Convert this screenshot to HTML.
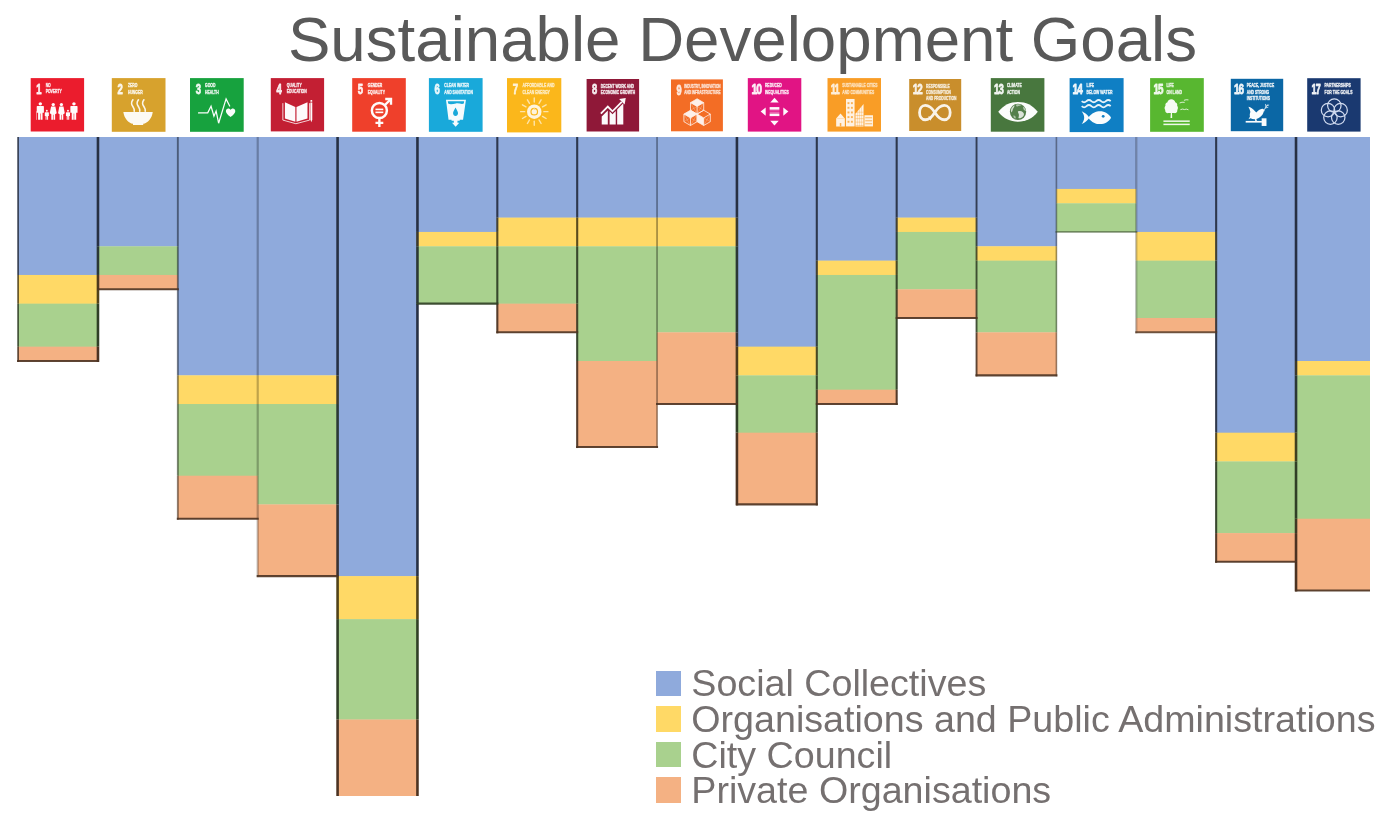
<!DOCTYPE html>
<html><head><meta charset="utf-8"><title>Sustainable Development Goals</title>
<style>
html,body{margin:0;padding:0;background:#fff;}
body{width:1386px;height:830px;position:relative;overflow:hidden;font-family:"Liberation Sans",sans-serif;}
#title{position:absolute;left:0;top:0;width:1386px;white-space:nowrap;color:#595959;font-size:63.65px;line-height:64px;}
#title span{position:absolute;left:287.9px;top:6.8px;letter-spacing:0px;}
#chart{position:absolute;left:0;top:0;width:1370.2px;height:796.4px;overflow:hidden;}
.ic{position:absolute;display:block;}
#legend{will-change:transform;position:absolute;left:656.2px;top:671.3px;color:#757070;font-size:37.65px;white-space:nowrap;}
.li{position:absolute;left:0;height:25.4px;}
.li i{position:absolute;left:0;top:0;width:25.4px;height:25.4px;display:block;}
.li b{position:absolute;left:35.3px;top:-8px;font-weight:normal;line-height:36px;}
#icons text{font-family:"Liberation Sans",sans-serif;font-weight:bold;white-space:pre;}
#icons text.n{font-size:28.2px;}
#icons text.n2{font-size:28.2px;letter-spacing:-2.46px;}
#icons text.l{font-size:10.79px;}
</style></head><body>
<div id="chart"><svg width="1386" height="830" viewBox="0 0 1386 830" style="position:absolute;left:0;top:0;filter:blur(0.35px)">
<g shape-rendering="auto">
<rect x="18.10" y="137.00" width="80.17" height="138.26" fill="#8FAADC"/>
<rect x="18.10" y="274.96" width="80.17" height="28.98" fill="#FFD966"/>
<rect x="18.10" y="303.64" width="80.17" height="43.32" fill="#A9D18E"/>
<rect x="18.10" y="346.66" width="80.17" height="14.64" fill="#F4B183"/>
<rect x="97.97" y="137.00" width="80.17" height="109.58" fill="#8FAADC"/>
<rect x="97.97" y="246.28" width="80.17" height="28.98" fill="#A9D18E"/>
<rect x="97.97" y="274.96" width="80.17" height="14.64" fill="#F4B183"/>
<rect x="177.84" y="137.00" width="80.17" height="238.64" fill="#8FAADC"/>
<rect x="177.84" y="375.34" width="80.17" height="28.98" fill="#FFD966"/>
<rect x="177.84" y="404.02" width="80.17" height="72.00" fill="#A9D18E"/>
<rect x="177.84" y="475.72" width="80.17" height="43.32" fill="#F4B183"/>
<rect x="257.71" y="137.00" width="80.17" height="238.64" fill="#8FAADC"/>
<rect x="257.71" y="375.34" width="80.17" height="28.98" fill="#FFD966"/>
<rect x="257.71" y="404.02" width="80.17" height="100.68" fill="#A9D18E"/>
<rect x="257.71" y="504.40" width="80.17" height="72.00" fill="#F4B183"/>
<rect x="337.58" y="137.00" width="80.17" height="439.40" fill="#8FAADC"/>
<rect x="337.58" y="576.10" width="80.17" height="43.32" fill="#FFD966"/>
<rect x="337.58" y="619.12" width="80.17" height="100.68" fill="#A9D18E"/>
<rect x="337.58" y="719.50" width="80.17" height="93.51" fill="#F4B183"/>
<rect x="417.45" y="137.00" width="80.17" height="95.24" fill="#8FAADC"/>
<rect x="417.45" y="231.94" width="80.17" height="14.64" fill="#FFD966"/>
<rect x="417.45" y="246.28" width="80.17" height="57.66" fill="#A9D18E"/>
<rect x="497.32" y="137.00" width="80.17" height="80.90" fill="#8FAADC"/>
<rect x="497.32" y="217.60" width="80.17" height="28.98" fill="#FFD966"/>
<rect x="497.32" y="246.28" width="80.17" height="57.66" fill="#A9D18E"/>
<rect x="497.32" y="303.64" width="80.17" height="28.98" fill="#F4B183"/>
<rect x="577.19" y="137.00" width="80.17" height="80.90" fill="#8FAADC"/>
<rect x="577.19" y="217.60" width="80.17" height="28.98" fill="#FFD966"/>
<rect x="577.19" y="246.28" width="80.17" height="115.02" fill="#A9D18E"/>
<rect x="577.19" y="361.00" width="80.17" height="86.34" fill="#F4B183"/>
<rect x="657.06" y="137.00" width="80.17" height="80.90" fill="#8FAADC"/>
<rect x="657.06" y="217.60" width="80.17" height="28.98" fill="#FFD966"/>
<rect x="657.06" y="246.28" width="80.17" height="86.34" fill="#A9D18E"/>
<rect x="657.06" y="332.32" width="80.17" height="72.00" fill="#F4B183"/>
<rect x="736.93" y="137.00" width="80.17" height="209.96" fill="#8FAADC"/>
<rect x="736.93" y="346.66" width="80.17" height="28.98" fill="#FFD966"/>
<rect x="736.93" y="375.34" width="80.17" height="57.66" fill="#A9D18E"/>
<rect x="736.93" y="432.70" width="80.17" height="72.00" fill="#F4B183"/>
<rect x="816.80" y="137.00" width="80.17" height="123.92" fill="#8FAADC"/>
<rect x="816.80" y="260.62" width="80.17" height="14.64" fill="#FFD966"/>
<rect x="816.80" y="274.96" width="80.17" height="115.02" fill="#A9D18E"/>
<rect x="816.80" y="389.68" width="80.17" height="14.64" fill="#F4B183"/>
<rect x="896.67" y="137.00" width="80.17" height="80.90" fill="#8FAADC"/>
<rect x="896.67" y="217.60" width="80.17" height="14.64" fill="#FFD966"/>
<rect x="896.67" y="231.94" width="80.17" height="57.66" fill="#A9D18E"/>
<rect x="896.67" y="289.30" width="80.17" height="28.98" fill="#F4B183"/>
<rect x="976.54" y="137.00" width="80.17" height="109.58" fill="#8FAADC"/>
<rect x="976.54" y="246.28" width="80.17" height="14.64" fill="#FFD966"/>
<rect x="976.54" y="260.62" width="80.17" height="72.00" fill="#A9D18E"/>
<rect x="976.54" y="332.32" width="80.17" height="43.32" fill="#F4B183"/>
<rect x="1056.41" y="137.00" width="80.17" height="52.22" fill="#8FAADC"/>
<rect x="1056.41" y="188.92" width="80.17" height="14.64" fill="#FFD966"/>
<rect x="1056.41" y="203.26" width="80.17" height="28.98" fill="#A9D18E"/>
<rect x="1136.28" y="137.00" width="80.17" height="95.24" fill="#8FAADC"/>
<rect x="1136.28" y="231.94" width="80.17" height="28.98" fill="#FFD966"/>
<rect x="1136.28" y="260.62" width="80.17" height="57.66" fill="#A9D18E"/>
<rect x="1136.28" y="317.98" width="80.17" height="14.64" fill="#F4B183"/>
<rect x="1216.15" y="137.00" width="80.17" height="296.00" fill="#8FAADC"/>
<rect x="1216.15" y="432.70" width="80.17" height="28.98" fill="#FFD966"/>
<rect x="1216.15" y="461.38" width="80.17" height="72.00" fill="#A9D18E"/>
<rect x="1216.15" y="533.08" width="80.17" height="28.98" fill="#F4B183"/>
<rect x="1296.02" y="137.00" width="80.17" height="224.30" fill="#8FAADC"/>
<rect x="1296.02" y="361.00" width="80.17" height="14.64" fill="#FFD966"/>
<rect x="1296.02" y="375.34" width="80.17" height="143.70" fill="#A9D18E"/>
<rect x="1296.02" y="518.74" width="80.17" height="72.00" fill="#F4B183"/>
</g>
<g fill="none" stroke="#0a0604" stroke-linecap="butt">
<path d="M18.10 137.00V274.96" stroke="#273043" stroke-width="1.6" stroke-opacity="0.94"/>
<path d="M18.10 274.96V303.64" stroke="#504219" stroke-width="1.6" stroke-opacity="0.94"/>
<path d="M18.10 303.64V346.66" stroke="#303f26" stroke-width="1.6" stroke-opacity="0.94"/>
<path d="M18.10 346.66V362.00" stroke="#4c3322" stroke-width="1.6" stroke-opacity="0.94"/>
<path d="M97.97 137.00V246.28" stroke="#273043" stroke-width="2.6" stroke-opacity="1.00"/>
<path d="M97.97 246.28V274.96" stroke="#2b3835" stroke-width="2.6" stroke-opacity="1.00"/>
<path d="M97.97 274.96V289.30" stroke="#4e3a1d" stroke-width="2.6" stroke-opacity="1.00"/>
<path d="M97.97 289.30V303.64" stroke="#504219" stroke-width="2.6" stroke-opacity="1.00"/>
<path d="M97.97 303.64V346.66" stroke="#303f26" stroke-width="2.6" stroke-opacity="1.00"/>
<path d="M97.97 346.66V362.00" stroke="#4c3322" stroke-width="2.6" stroke-opacity="1.00"/>
<path d="M177.84 137.00V246.28" stroke="#273043" stroke-width="1.9" stroke-opacity="0.64"/>
<path d="M177.84 246.28V274.96" stroke="#2b3835" stroke-width="1.9" stroke-opacity="0.64"/>
<path d="M177.84 274.96V289.30" stroke="#393233" stroke-width="1.9" stroke-opacity="0.64"/>
<path d="M177.84 289.30V375.34" stroke="#273043" stroke-width="1.9" stroke-opacity="0.64"/>
<path d="M177.84 375.34V404.02" stroke="#504219" stroke-width="1.9" stroke-opacity="0.64"/>
<path d="M177.84 404.02V475.72" stroke="#303f26" stroke-width="1.9" stroke-opacity="0.64"/>
<path d="M177.84 475.72V519.74" stroke="#4c3322" stroke-width="1.9" stroke-opacity="0.64"/>
<path d="M257.71 137.00V375.34" stroke="#273043" stroke-width="2.2" stroke-opacity="0.36"/>
<path d="M257.71 375.34V404.02" stroke="#504219" stroke-width="2.2" stroke-opacity="0.36"/>
<path d="M257.71 404.02V475.72" stroke="#303f26" stroke-width="2.2" stroke-opacity="0.36"/>
<path d="M257.71 475.72V504.40" stroke="#3e3924" stroke-width="2.2" stroke-opacity="0.36"/>
<path d="M257.71 504.40V518.74" stroke="#4c3322" stroke-width="2.2" stroke-opacity="0.36"/>
<path d="M257.71 518.74V577.10" stroke="#4c3322" stroke-width="2.2" stroke-opacity="0.36"/>
<path d="M337.58 137.00V375.34" stroke="#273043" stroke-width="2.6" stroke-opacity="1.00"/>
<path d="M337.58 375.34V404.02" stroke="#3b392d" stroke-width="2.6" stroke-opacity="1.00"/>
<path d="M337.58 404.02V504.40" stroke="#2b3835" stroke-width="2.6" stroke-opacity="1.00"/>
<path d="M337.58 504.40V576.10" stroke="#393233" stroke-width="2.6" stroke-opacity="1.00"/>
<path d="M337.58 576.10V619.12" stroke="#504219" stroke-width="2.6" stroke-opacity="1.00"/>
<path d="M337.58 619.12V719.50" stroke="#303f26" stroke-width="2.6" stroke-opacity="1.00"/>
<path d="M337.58 719.50V813.71" stroke="#4c3322" stroke-width="2.6" stroke-opacity="1.00"/>
<path d="M417.45 137.00V231.94" stroke="#273043" stroke-width="2.6" stroke-opacity="1.00"/>
<path d="M417.45 231.94V246.28" stroke="#3b392d" stroke-width="2.6" stroke-opacity="1.00"/>
<path d="M417.45 246.28V303.64" stroke="#2b3835" stroke-width="2.6" stroke-opacity="1.00"/>
<path d="M417.45 303.64V576.10" stroke="#273043" stroke-width="2.6" stroke-opacity="1.00"/>
<path d="M417.45 576.10V619.12" stroke="#504219" stroke-width="2.6" stroke-opacity="1.00"/>
<path d="M417.45 619.12V719.50" stroke="#303f26" stroke-width="2.6" stroke-opacity="1.00"/>
<path d="M417.45 719.50V813.71" stroke="#4c3322" stroke-width="2.6" stroke-opacity="1.00"/>
<path d="M497.32 137.00V217.60" stroke="#273043" stroke-width="2.1" stroke-opacity="0.94"/>
<path d="M497.32 217.60V231.94" stroke="#3b392d" stroke-width="2.1" stroke-opacity="0.94"/>
<path d="M497.32 231.94V246.28" stroke="#504219" stroke-width="2.1" stroke-opacity="0.94"/>
<path d="M497.32 246.28V303.64" stroke="#303f26" stroke-width="2.1" stroke-opacity="0.94"/>
<path d="M497.32 303.64V333.32" stroke="#4c3322" stroke-width="2.1" stroke-opacity="0.94"/>
<path d="M577.19 137.00V217.60" stroke="#273043" stroke-width="2.1" stroke-opacity="0.94"/>
<path d="M577.19 217.60V246.28" stroke="#504219" stroke-width="2.1" stroke-opacity="0.94"/>
<path d="M577.19 246.28V303.64" stroke="#303f26" stroke-width="2.1" stroke-opacity="0.94"/>
<path d="M577.19 303.64V332.32" stroke="#3e3924" stroke-width="2.1" stroke-opacity="0.94"/>
<path d="M577.19 332.32V361.00" stroke="#303f26" stroke-width="2.1" stroke-opacity="0.94"/>
<path d="M577.19 361.00V448.04" stroke="#4c3322" stroke-width="2.1" stroke-opacity="0.94"/>
<path d="M657.06 137.00V217.60" stroke="#273043" stroke-width="1.6" stroke-opacity="0.56"/>
<path d="M657.06 217.60V246.28" stroke="#504219" stroke-width="1.6" stroke-opacity="0.56"/>
<path d="M657.06 246.28V332.32" stroke="#303f26" stroke-width="1.6" stroke-opacity="0.56"/>
<path d="M657.06 332.32V361.00" stroke="#3e3924" stroke-width="1.6" stroke-opacity="0.56"/>
<path d="M657.06 361.00V404.02" stroke="#4c3322" stroke-width="1.6" stroke-opacity="0.56"/>
<path d="M657.06 404.02V448.04" stroke="#4c3322" stroke-width="1.6" stroke-opacity="0.56"/>
<path d="M736.93 137.00V217.60" stroke="#273043" stroke-width="2.6" stroke-opacity="1.00"/>
<path d="M736.93 217.60V246.28" stroke="#3b392d" stroke-width="2.6" stroke-opacity="1.00"/>
<path d="M736.93 246.28V332.32" stroke="#2b3835" stroke-width="2.6" stroke-opacity="1.00"/>
<path d="M736.93 332.32V346.66" stroke="#393233" stroke-width="2.6" stroke-opacity="1.00"/>
<path d="M736.93 346.66V375.34" stroke="#4e3a1d" stroke-width="2.6" stroke-opacity="1.00"/>
<path d="M736.93 375.34V404.02" stroke="#3e3924" stroke-width="2.6" stroke-opacity="1.00"/>
<path d="M736.93 404.02V432.70" stroke="#303f26" stroke-width="2.6" stroke-opacity="1.00"/>
<path d="M736.93 432.70V505.40" stroke="#4c3322" stroke-width="2.6" stroke-opacity="1.00"/>
<path d="M816.80 137.00V260.62" stroke="#273043" stroke-width="2.1" stroke-opacity="0.94"/>
<path d="M816.80 260.62V274.96" stroke="#3b392d" stroke-width="2.1" stroke-opacity="0.94"/>
<path d="M816.80 274.96V346.66" stroke="#2b3835" stroke-width="2.1" stroke-opacity="0.94"/>
<path d="M816.80 346.66V375.34" stroke="#40401f" stroke-width="2.1" stroke-opacity="0.94"/>
<path d="M816.80 375.34V389.68" stroke="#303f26" stroke-width="2.1" stroke-opacity="0.94"/>
<path d="M816.80 389.68V404.02" stroke="#3e3924" stroke-width="2.1" stroke-opacity="0.94"/>
<path d="M816.80 404.02V432.70" stroke="#303f26" stroke-width="2.1" stroke-opacity="0.94"/>
<path d="M816.80 432.70V505.40" stroke="#4c3322" stroke-width="2.1" stroke-opacity="0.94"/>
<path d="M896.67 137.00V217.60" stroke="#273043" stroke-width="2.1" stroke-opacity="0.94"/>
<path d="M896.67 217.60V231.94" stroke="#3b392d" stroke-width="2.1" stroke-opacity="0.94"/>
<path d="M896.67 231.94V260.62" stroke="#2b3835" stroke-width="2.1" stroke-opacity="0.94"/>
<path d="M896.67 260.62V274.96" stroke="#40401f" stroke-width="2.1" stroke-opacity="0.94"/>
<path d="M896.67 274.96V289.30" stroke="#303f26" stroke-width="2.1" stroke-opacity="0.94"/>
<path d="M896.67 289.30V317.98" stroke="#3e3924" stroke-width="2.1" stroke-opacity="0.94"/>
<path d="M896.67 317.98V389.68" stroke="#303f26" stroke-width="2.1" stroke-opacity="0.94"/>
<path d="M896.67 389.68V405.02" stroke="#4c3322" stroke-width="2.1" stroke-opacity="0.94"/>
<path d="M976.54 137.00V217.60" stroke="#273043" stroke-width="1.9" stroke-opacity="0.89"/>
<path d="M976.54 217.60V231.94" stroke="#3b392d" stroke-width="1.9" stroke-opacity="0.89"/>
<path d="M976.54 231.94V246.28" stroke="#2b3835" stroke-width="1.9" stroke-opacity="0.89"/>
<path d="M976.54 246.28V260.62" stroke="#40401f" stroke-width="1.9" stroke-opacity="0.89"/>
<path d="M976.54 260.62V289.30" stroke="#303f26" stroke-width="1.9" stroke-opacity="0.89"/>
<path d="M976.54 289.30V317.98" stroke="#3e3924" stroke-width="1.9" stroke-opacity="0.89"/>
<path d="M976.54 317.98V332.32" stroke="#303f26" stroke-width="1.9" stroke-opacity="0.89"/>
<path d="M976.54 332.32V376.34" stroke="#4c3322" stroke-width="1.9" stroke-opacity="0.89"/>
<path d="M1056.41 137.00V188.92" stroke="#273043" stroke-width="1.6" stroke-opacity="0.56"/>
<path d="M1056.41 188.92V203.26" stroke="#3b392d" stroke-width="1.6" stroke-opacity="0.56"/>
<path d="M1056.41 203.26V231.94" stroke="#2b3835" stroke-width="1.6" stroke-opacity="0.56"/>
<path d="M1056.41 231.94V246.28" stroke="#273043" stroke-width="1.6" stroke-opacity="0.56"/>
<path d="M1056.41 246.28V260.62" stroke="#504219" stroke-width="1.6" stroke-opacity="0.56"/>
<path d="M1056.41 260.62V332.32" stroke="#303f26" stroke-width="1.6" stroke-opacity="0.56"/>
<path d="M1056.41 332.32V376.34" stroke="#4c3322" stroke-width="1.6" stroke-opacity="0.56"/>
<path d="M1136.28 137.00V188.92" stroke="#273043" stroke-width="2.2" stroke-opacity="0.36"/>
<path d="M1136.28 188.92V203.26" stroke="#3b392d" stroke-width="2.2" stroke-opacity="0.36"/>
<path d="M1136.28 203.26V231.94" stroke="#2b3835" stroke-width="2.2" stroke-opacity="0.36"/>
<path d="M1136.28 231.94V260.62" stroke="#504219" stroke-width="2.2" stroke-opacity="0.36"/>
<path d="M1136.28 260.62V317.98" stroke="#303f26" stroke-width="2.2" stroke-opacity="0.36"/>
<path d="M1136.28 317.98V333.32" stroke="#4c3322" stroke-width="2.2" stroke-opacity="0.36"/>
<path d="M1216.15 137.00V231.94" stroke="#273043" stroke-width="2.1" stroke-opacity="0.94"/>
<path d="M1216.15 231.94V260.62" stroke="#3b392d" stroke-width="2.1" stroke-opacity="0.94"/>
<path d="M1216.15 260.62V317.98" stroke="#2b3835" stroke-width="2.1" stroke-opacity="0.94"/>
<path d="M1216.15 317.98V332.32" stroke="#393233" stroke-width="2.1" stroke-opacity="0.94"/>
<path d="M1216.15 332.32V432.70" stroke="#273043" stroke-width="2.1" stroke-opacity="0.94"/>
<path d="M1216.15 432.70V461.38" stroke="#504219" stroke-width="2.1" stroke-opacity="0.94"/>
<path d="M1216.15 461.38V533.08" stroke="#303f26" stroke-width="2.1" stroke-opacity="0.94"/>
<path d="M1216.15 533.08V562.76" stroke="#4c3322" stroke-width="2.1" stroke-opacity="0.94"/>
<path d="M1296.02 137.00V361.00" stroke="#273043" stroke-width="2.6" stroke-opacity="1.00"/>
<path d="M1296.02 361.00V375.34" stroke="#3b392d" stroke-width="2.6" stroke-opacity="1.00"/>
<path d="M1296.02 375.34V432.70" stroke="#2b3835" stroke-width="2.6" stroke-opacity="1.00"/>
<path d="M1296.02 432.70V461.38" stroke="#40401f" stroke-width="2.6" stroke-opacity="1.00"/>
<path d="M1296.02 461.38V518.74" stroke="#303f26" stroke-width="2.6" stroke-opacity="1.00"/>
<path d="M1296.02 518.74V533.08" stroke="#3e3924" stroke-width="2.6" stroke-opacity="1.00"/>
<path d="M1296.02 533.08V561.76" stroke="#4c3322" stroke-width="2.6" stroke-opacity="1.00"/>
<path d="M1296.02 561.76V591.44" stroke="#4c3322" stroke-width="2.6" stroke-opacity="1.00"/>
<path d="M1375.89 137.00V361.00" stroke="#273043" stroke-width="2.1" stroke-opacity="0.94"/>
<path d="M1375.89 361.00V375.34" stroke="#504219" stroke-width="2.1" stroke-opacity="0.94"/>
<path d="M1375.89 375.34V518.74" stroke="#303f26" stroke-width="2.1" stroke-opacity="0.94"/>
<path d="M1375.89 518.74V591.44" stroke="#4c3322" stroke-width="2.1" stroke-opacity="0.94"/>
<path d="M17.10 361.00H98.97" stroke="#4c3322" stroke-width="2.1" stroke-opacity="0.9"/>
<path d="M96.97 289.30H178.84" stroke="#4c3322" stroke-width="2.1" stroke-opacity="0.9"/>
<path d="M176.84 518.74H258.71" stroke="#4c3322" stroke-width="2.1" stroke-opacity="0.9"/>
<path d="M256.71 576.10H338.58" stroke="#4c3322" stroke-width="2.1" stroke-opacity="0.9"/>
<path d="M336.58 812.71H418.45" stroke="#4c3322" stroke-width="2.1" stroke-opacity="0.9"/>
<path d="M416.45 303.64H498.32" stroke="#303f26" stroke-width="2.1" stroke-opacity="0.9"/>
<path d="M496.32 332.32H578.19" stroke="#4c3322" stroke-width="2.1" stroke-opacity="0.9"/>
<path d="M576.19 447.04H658.06" stroke="#4c3322" stroke-width="2.1" stroke-opacity="0.9"/>
<path d="M656.06 404.02H737.93" stroke="#4c3322" stroke-width="2.1" stroke-opacity="0.9"/>
<path d="M735.93 504.40H817.80" stroke="#4c3322" stroke-width="2.1" stroke-opacity="0.9"/>
<path d="M815.80 404.02H897.67" stroke="#4c3322" stroke-width="2.1" stroke-opacity="0.9"/>
<path d="M895.67 317.98H977.54" stroke="#4c3322" stroke-width="2.1" stroke-opacity="0.9"/>
<path d="M975.54 375.34H1057.41" stroke="#4c3322" stroke-width="2.1" stroke-opacity="0.9"/>
<path d="M1055.41 231.94H1137.28" stroke="#303f26" stroke-width="1.8" stroke-opacity="0.5"/>
<path d="M1135.28 332.32H1217.15" stroke="#4c3322" stroke-width="2.0" stroke-opacity="0.8"/>
<path d="M1215.15 561.76H1297.02" stroke="#4c3322" stroke-width="2.1" stroke-opacity="0.9"/>
<path d="M1295.02 590.44H1376.89" stroke="#4c3322" stroke-width="2.1" stroke-opacity="0.9"/>
</g>
</svg></div>
<div id="title"><span>Sustainable Development Goals</span></div>
<svg id="icons" width="1386" height="830" viewBox="0 0 1386 830" style="position:absolute;left:0;top:0;filter:blur(0.4px)">
<g transform="translate(30.7 78.1) scale(0.5340)"><rect width="100" height="100" fill="#EB1C2D"/><g opacity="0.98"><g transform="translate(10.5 29.2) scale(0.6296 1)" fill="#fff" fill-opacity="0.93" stroke="#fff" stroke-width="1.65" stroke-opacity="0.85" stroke-linejoin="round"><text class="n" x="0" y="0">1</text></g><g transform="translate(28 16.6) scale(0.5901 1)" fill="#fff" fill-opacity="0.9" stroke="#fff" stroke-width="0.9" stroke-opacity="0.72" stroke-linejoin="round"><text class="l" x="0" y="0">NO</text></g><g transform="translate(28 28.8) scale(0.5901 1)" fill="#fff" fill-opacity="0.9" stroke="#fff" stroke-width="0.9" stroke-opacity="0.72" stroke-linejoin="round"><text class="l" x="0" y="0">POVERTY</text></g><g fill="#fff"><circle cx="18.0" cy="48.22" r="3.22"/><path d="M11.30 53.23Q11.30 52.03 12.50 52.03H23.50Q24.70 52.03 24.70 53.23V65.12H22.15V78.2H18.50V66.12H17.50V78.2H13.85V65.12H11.30Z"/><circle cx="30.2" cy="61.32" r="1.82"/><path d="M26.40 64.95Q26.40 63.75 27.60 63.75H32.80Q34.00 63.75 34.00 64.95V70.97H32.56V78.2H30.70V71.97H29.70V78.2H27.84V70.97H26.40Z"/><circle cx="42.2" cy="49.62" r="3.12"/><path d="M38.17 53.34H46.23L48.70 65.77L45.78 67.77V78.2H42.70V68.77H41.70V78.2H38.62V67.77L35.70 65.77Z"/><circle cx="57.5" cy="49.52" r="3.02"/><path d="M53.59 53.15H61.41L63.80 65.67L60.97 67.67V78.2H58.00V68.67H57.00V78.2H54.03V67.67L51.20 65.67Z"/><circle cx="69.8" cy="61.32" r="1.82"/><path d="M66.00 64.95Q66.00 63.75 67.20 63.75H72.40Q73.60 63.75 73.60 64.95V70.97H72.16V78.2H70.30V71.97H69.30V78.2H67.44V70.97H66.00Z"/><circle cx="81.0" cy="48.22" r="3.22"/><path d="M74.30 53.23Q74.30 52.03 75.50 52.03H86.50Q87.70 52.03 87.70 53.23V65.12H85.15V78.2H81.50V66.12H80.50V78.2H76.85V65.12H74.30Z"/><rect x="10.6" y="62" width="1.1" height="16.2" opacity="0.8"/></g></g></g>
<g transform="translate(111.8 78.1) scale(0.5370)"><rect width="100" height="100" fill="#D7A22D"/><g opacity="0.95"><g transform="translate(10.5 29.2) scale(0.6296 1)" fill="#fff" fill-opacity="0.93" stroke="#fff" stroke-width="1.65" stroke-opacity="0.85" stroke-linejoin="round"><text class="n" x="0" y="0">2</text></g><g transform="translate(30 16.6) scale(0.5901 1)" fill="#fff" fill-opacity="0.9" stroke="#fff" stroke-width="0.9" stroke-opacity="0.72" stroke-linejoin="round"><text class="l" x="0" y="0">ZERO</text></g><g transform="translate(30 28.8) scale(0.5901 1)" fill="#fff" fill-opacity="0.9" stroke="#fff" stroke-width="0.9" stroke-opacity="0.72" stroke-linejoin="round"><text class="l" x="0" y="0">HUNGER</text></g><path d="M21.5 63H76.2C75 75 67 83.5 58.5 85.2V87.4H39.5V85.2C31 83.5 23 75 21.5 63Z" fill="#fff"/><path d="M39.3 40.5C34.3 47 37.3 50.5 39.8 54C41.8 57 42.3 59 41.8 61.5" fill="none" stroke="#fff" stroke-width="3.1" stroke-linecap="round" stroke-opacity="0.95"/><path d="M49.6 40.5C44.6 47 47.6 50.5 50.1 54C52.1 57 52.6 59 52.1 61.5" fill="none" stroke="#fff" stroke-width="3.1" stroke-linecap="round" stroke-opacity="0.95"/><path d="M59.8 40.5C54.8 47 57.8 50.5 60.3 54C62.3 57 62.8 59 62.3 61.5" fill="none" stroke="#fff" stroke-width="3.1" stroke-linecap="round" stroke-opacity="0.95"/></g></g>
<g transform="translate(190.0 78.1) scale(0.5370)"><rect width="100" height="100" fill="#17A23E"/><g opacity="0.98"><g transform="translate(10.5 29.2) scale(0.6296 1)" fill="#fff" fill-opacity="0.93" stroke="#fff" stroke-width="1.65" stroke-opacity="0.85" stroke-linejoin="round"><text class="n" x="0" y="0">3</text></g><g transform="translate(28 16.6) scale(0.5901 1)" fill="#fff" fill-opacity="0.9" stroke="#fff" stroke-width="0.9" stroke-opacity="0.72" stroke-linejoin="round"><text class="l" x="0" y="0">GOOD</text></g><g transform="translate(28 28.8) scale(0.5901 1)" fill="#fff" fill-opacity="0.9" stroke="#fff" stroke-width="0.9" stroke-opacity="0.72" stroke-linejoin="round"><text class="l" x="0" y="0">HEALTH</text></g><path d="M15.8 64.8H33L39.2 52.5L44.6 71L48.6 61.5L53.3 84L67.2 38.8L73.9 52" fill="none" stroke="#fff" stroke-width="2.3" stroke-linejoin="miter" stroke-linecap="round"/><path d="M75.6 72.6C68.6 67.2 66.9 63.8 66.9 61.2C66.9 58.4 69 56.7 71.3 56.7C73.2 56.7 74.8 57.8 75.6 59.4C76.4 57.8 78 56.7 79.9 56.7C82.2 56.7 84.3 58.4 84.3 61.2C84.3 63.8 82.6 67.2 75.6 72.6Z" fill="#fff"/></g></g>
<g transform="translate(270.8 78.1) scale(0.5330)"><rect width="100" height="100" fill="#C31F33"/><g opacity="0.98"><g transform="translate(10.5 29.2) scale(0.6296 1)" fill="#fff" fill-opacity="0.93" stroke="#fff" stroke-width="1.65" stroke-opacity="0.85" stroke-linejoin="round"><text class="n" x="0" y="0">4</text></g><g transform="translate(30 16.6) scale(0.5901 1)" fill="#fff" fill-opacity="0.9" stroke="#fff" stroke-width="0.9" stroke-opacity="0.72" stroke-linejoin="round"><text class="l" x="0" y="0">QUALITY</text></g><g transform="translate(30 28.8) scale(0.5901 1)" fill="#fff" fill-opacity="0.9" stroke="#fff" stroke-width="0.9" stroke-opacity="0.72" stroke-linejoin="round"><text class="l" x="0" y="0">EDUCATION</text></g><path d="M26.5 45.3L46 54.2V82L26.5 75.8Z" fill="#fff"/><path d="M68.8 45.3L48.2 54.2V82L68.8 75.8Z" fill="#fff"/><path d="M22.6 47V78.8L47.1 85.6L72.8 78.8V47" fill="none" stroke="#fff" stroke-width="1.7" stroke-opacity="0.9"/><path d="M74.3 46H77.8V77.5L76.05 83L74.3 77.5Z" fill="#fff"/><rect x="74.3" y="41.3" width="3.5" height="3.3" rx="1" fill="#fff"/></g></g>
<g transform="translate(352.2 78.1) scale(0.5360)"><rect width="100" height="100" fill="#EF402B"/><g opacity="0.98"><g transform="translate(10.5 29.2) scale(0.6296 1)" fill="#fff" fill-opacity="0.93" stroke="#fff" stroke-width="1.65" stroke-opacity="0.85" stroke-linejoin="round"><text class="n" x="0" y="0">5</text></g><g transform="translate(29 16.6) scale(0.5901 1)" fill="#fff" fill-opacity="0.9" stroke="#fff" stroke-width="0.9" stroke-opacity="0.72" stroke-linejoin="round"><text class="l" x="0" y="0">GENDER</text></g><g transform="translate(29 28.8) scale(0.5901 1)" fill="#fff" fill-opacity="0.9" stroke="#fff" stroke-width="0.9" stroke-opacity="0.72" stroke-linejoin="round"><text class="l" x="0" y="0">EQUALITY</text></g><circle cx="50.7" cy="60.5" r="14" fill="none" stroke="#fff" stroke-width="4.6"/><rect x="43.4" y="56.9" width="14.6" height="3" fill="#fff"/><rect x="43.4" y="62.4" width="14.6" height="3" fill="#fff"/><path d="M50.7 74.5V91M43.4 83.6H58" stroke="#fff" stroke-width="4.4" fill="none"/><path d="M60.6 50.6L71.6 39.6" stroke="#fff" stroke-width="4.4" fill="none"/><path d="M61.6 38.9H72.4V49.8" stroke="#fff" stroke-width="4.4" fill="none" stroke-linejoin="miter"/></g></g>
<g transform="translate(428.9 78.1) scale(0.5370)"><rect width="100" height="100" fill="#19A9DA"/><g opacity="0.96"><g transform="translate(10.5 29.2) scale(0.6296 1)" fill="#fff" fill-opacity="0.93" stroke="#fff" stroke-width="1.65" stroke-opacity="0.85" stroke-linejoin="round"><text class="n" x="0" y="0">6</text></g><g transform="translate(28.5 16.6) scale(0.5901 1)" fill="#fff" fill-opacity="0.9" stroke="#fff" stroke-width="0.9" stroke-opacity="0.72" stroke-linejoin="round"><text class="l" x="0" y="0">CLEAN WATER</text></g><g transform="translate(28.5 28.8) scale(0.5901 1)" fill="#fff" fill-opacity="0.9" stroke="#fff" stroke-width="0.9" stroke-opacity="0.72" stroke-linejoin="round"><text class="l" x="0" y="0">AND SANITATION</text></g><path d="M31.8 40.3H69L63.6 77.4H57.4V79.6H53.2V83H56.6L49.8 90.8L43 83H46.4V79.6H42.2V77.4H36.6Z" fill="#fff"/><path d="M35.2 43.2H65.6L65.1 47.3C61 49.6 56 46.2 50.4 47.2C45 48.2 40 49.6 35.8 47.4Z" fill="#19A9DA"/><path d="M49.6 54.8C52 59.5 54.2 62.5 54.2 65.6C54.2 68.6 52.2 70.6 49.6 70.6C47 70.6 45 68.6 45 65.6C45 62.5 47.2 59.5 49.6 54.8Z" fill="#19A9DA"/></g></g>
<g transform="translate(507.0 78.1) scale(0.5430)"><rect width="100" height="100" fill="#FBB71B"/><g opacity="0.86"><g transform="translate(10.5 29.2) scale(0.6296 1)" fill="#fff" fill-opacity="0.93" stroke="#fff" stroke-width="1.65" stroke-opacity="0.85" stroke-linejoin="round"><text class="n" x="0" y="0">7</text></g><g transform="translate(28.5 16.6) scale(0.5901 1)" fill="#fff" fill-opacity="0.8" stroke="#fff" stroke-width="0.9" stroke-opacity="0.64" stroke-linejoin="round"><text class="l" x="0" y="0">AFFORDABLE AND</text></g><g transform="translate(28.5 28.8) scale(0.5901 1)" fill="#fff" fill-opacity="0.8" stroke="#fff" stroke-width="0.9" stroke-opacity="0.64" stroke-linejoin="round"><text class="l" x="0" y="0">CLEAN ENERGY</text></g><circle cx="50.2" cy="61.8" r="13.3" fill="#fff"/><circle cx="50.2" cy="61.8" r="6" fill="none" stroke="#FBB71B" stroke-width="2.2"/><rect x="49.3" y="53.6" width="1.8" height="5.6" fill="#fff"/><rect x="49.6" y="54.6" width="1.2" height="4" fill="#FBB71B" opacity="0.7"/><path d="M50.20 44.20L50.20 36.60" stroke="#fff" stroke-opacity="0.72" stroke-width="2.6" stroke-linecap="round"/><path d="M59.00 46.56L62.80 39.98" stroke="#fff" stroke-opacity="0.72" stroke-width="2.6" stroke-linecap="round"/><path d="M65.44 53.00L72.02 49.20" stroke="#fff" stroke-opacity="0.72" stroke-width="2.6" stroke-linecap="round"/><path d="M67.80 61.80L75.40 61.80" stroke="#fff" stroke-opacity="0.72" stroke-width="2.6" stroke-linecap="round"/><path d="M65.44 70.60L72.02 74.40" stroke="#fff" stroke-opacity="0.72" stroke-width="2.6" stroke-linecap="round"/><path d="M59.00 77.04L62.80 83.62" stroke="#fff" stroke-opacity="0.72" stroke-width="2.6" stroke-linecap="round"/><path d="M50.20 79.40L50.20 87.00" stroke="#fff" stroke-opacity="0.72" stroke-width="2.6" stroke-linecap="round"/><path d="M41.40 77.04L37.60 83.62" stroke="#fff" stroke-opacity="0.72" stroke-width="2.6" stroke-linecap="round"/><path d="M34.96 70.60L28.38 74.40" stroke="#fff" stroke-opacity="0.72" stroke-width="2.6" stroke-linecap="round"/><path d="M32.60 61.80L25.00 61.80" stroke="#fff" stroke-opacity="0.72" stroke-width="2.6" stroke-linecap="round"/><path d="M34.96 53.00L28.38 49.20" stroke="#fff" stroke-opacity="0.72" stroke-width="2.6" stroke-linecap="round"/><path d="M41.40 46.56L37.60 39.98" stroke="#fff" stroke-opacity="0.72" stroke-width="2.6" stroke-linecap="round"/></g></g>
<g transform="translate(586.6 79.0) scale(0.5250)"><rect width="100" height="100" fill="#8F1838"/><g opacity="0.98"><g transform="translate(10.5 29.2) scale(0.6296 1)" fill="#fff" fill-opacity="0.93" stroke="#fff" stroke-width="1.65" stroke-opacity="0.85" stroke-linejoin="round"><text class="n" x="0" y="0">8</text></g><g transform="translate(27 16.6) scale(0.5901 1)" fill="#fff" fill-opacity="0.9" stroke="#fff" stroke-width="0.9" stroke-opacity="0.72" stroke-linejoin="round"><text class="l" x="0" y="0">DECENT WORK AND</text></g><g transform="translate(27 28.8) scale(0.5901 1)" fill="#fff" fill-opacity="0.9" stroke="#fff" stroke-width="0.9" stroke-opacity="0.72" stroke-linejoin="round"><text class="l" x="0" y="0">ECONOMIC GROWTH</text></g><path d="M28.8 71.2L40.4 60V86.7H28.8Z" fill="#fff"/><path d="M43.8 61.2L49.3 67L55.5 60.8V86.7H43.8Z" fill="#fff"/><path d="M58.2 58.2L69.9 46.4V86.7H58.2Z" fill="#fff"/><path d="M27.2 66L40.4 52.6L49.3 61.6L67 43.8" fill="none" stroke="#fff" stroke-width="3.4"/><path d="M62 38.2L74.6 36.2L72.4 48.8Z" fill="#fff"/></g></g>
<g transform="translate(671.0 79.4) scale(0.5190)"><rect width="100" height="100" fill="#F36D25"/><g opacity="0.9"><g transform="translate(10.5 29.2) scale(0.6296 1)" fill="#fff" fill-opacity="0.93" stroke="#fff" stroke-width="1.65" stroke-opacity="0.85" stroke-linejoin="round"><text class="n" x="0" y="0">9</text></g><g transform="translate(25.5 16.6) scale(0.5598 1)" fill="#fff" fill-opacity="0.85" stroke="#fff" stroke-width="0.9" stroke-opacity="0.68" stroke-linejoin="round"><text class="l" x="0" y="0">INDUSTRY, INNOVATION</text></g><g transform="translate(25.5 28.8) scale(0.5598 1)" fill="#fff" fill-opacity="0.85" stroke="#fff" stroke-width="0.9" stroke-opacity="0.68" stroke-linejoin="round"><text class="l" x="0" y="0">AND INFRASTRUCTURE</text></g><path d="M50.30 37.40L63.03 44.75L50.30 52.10L37.57 44.75Z" fill="#fff"/><path d="M50.30 37.40L63.03 44.75L63.03 59.45L50.30 66.80L37.57 59.45L37.57 44.75ZM37.57 44.75L50.30 52.10L63.03 44.75M50.30 52.10L50.30 66.80" fill="none" stroke="#fff" stroke-width="1.55" stroke-linejoin="round"/><path d="M37.57 44.75L50.30 66.80M50.30 52.10L37.57 59.45" stroke="#fff" stroke-width="0.9" stroke-opacity="0.55" fill="none"/><path d="M50.30 52.10L63.03 59.45M63.03 44.75L50.30 66.80" stroke="#fff" stroke-width="0.9" stroke-opacity="0.55" fill="none"/><path d="M37.57 59.45L50.30 66.80L37.57 74.15L24.84 66.80Z" fill="#fff"/><path d="M37.57 59.45L50.30 66.80L50.30 81.50L37.57 88.85L24.84 81.50L24.84 66.80ZM24.84 66.80L37.57 74.15L50.30 66.80M37.57 74.15L37.57 88.85" fill="none" stroke="#fff" stroke-width="1.55" stroke-linejoin="round"/><path d="M24.84 66.80L37.57 88.85M37.57 74.15L24.84 81.50" stroke="#fff" stroke-width="0.9" stroke-opacity="0.55" fill="none"/><path d="M37.57 74.15L50.30 81.50M50.30 66.80L37.57 88.85" stroke="#fff" stroke-width="0.9" stroke-opacity="0.55" fill="none"/><path d="M50.30 66.80L63.03 74.15L63.03 88.85L50.30 81.50Z" fill="#fff"/><path d="M63.03 59.45L75.76 66.80L75.76 81.50L63.03 88.85L50.30 81.50L50.30 66.80ZM50.30 66.80L63.03 74.15L75.76 66.80M63.03 74.15L63.03 88.85" fill="none" stroke="#fff" stroke-width="1.55" stroke-linejoin="round"/><path d="M63.03 74.15L75.76 81.50M75.76 66.80L63.03 88.85" stroke="#fff" stroke-width="0.9" stroke-opacity="0.55" fill="none"/></g></g>
<g transform="translate(747.8 78.1) scale(0.5350)"><rect width="100" height="100" fill="#E11484"/><g opacity="0.98"><g transform="translate(6.7 29.2) scale(0.6899 1)" fill="#fff" fill-opacity="0.93" stroke="#fff" stroke-width="1.65" stroke-opacity="0.85" stroke-linejoin="round"><text class="n2" x="0" y="0">10</text></g><g transform="translate(32 16.6) scale(0.5901 1)" fill="#fff" fill-opacity="0.9" stroke="#fff" stroke-width="0.9" stroke-opacity="0.72" stroke-linejoin="round"><text class="l" x="0" y="0">REDUCED</text></g><g transform="translate(32 28.8) scale(0.5901 1)" fill="#fff" fill-opacity="0.9" stroke="#fff" stroke-width="0.9" stroke-opacity="0.72" stroke-linejoin="round"><text class="l" x="0" y="0">INEQUALITIES</text></g><rect x="40.8" y="54.2" width="18.2" height="4.8" fill="#fff"/><rect x="40.8" y="66.2" width="18.2" height="4.8" fill="#fff"/><rect x="40.8" y="60.6" width="18.2" height="1.4" fill="#fff" opacity="0.45"/><rect x="40.8" y="63.4" width="18.2" height="1.4" fill="#fff" opacity="0.45"/><path d="M49.9 36.6L57.8 45.6H42Z" fill="#fff"/><path d="M49.9 88.6L57.8 79.6H42Z" fill="#fff"/><path d="M24 62.6L33.4 54.8V70.4Z" fill="#fff"/><path d="M75.8 62.6L66.4 54.8V70.4Z" fill="#fff"/></g></g>
<g transform="translate(827.5 78.1) scale(0.5350)"><rect width="100" height="100" fill="#F99D26"/><g opacity="0.96"><g opacity="0.9"><g transform="translate(5.9 29.2) scale(0.6202 1)" fill="#fff" fill-opacity="0.93" stroke="#fff" stroke-width="1.65" stroke-opacity="0.85" stroke-linejoin="round"><text class="n2" x="0" y="0">11</text></g></g><g transform="translate(27.5 16.6) scale(0.5806 1)" fill="#fff" fill-opacity="0.62" stroke="#fff" stroke-width="0.9" stroke-opacity="0.50" stroke-linejoin="round"><text class="l" x="0" y="0">SUSTAINABLE CITIES</text></g><g transform="translate(27.5 28.8) scale(0.5806 1)" fill="#fff" fill-opacity="0.62" stroke="#fff" stroke-width="0.9" stroke-opacity="0.50" stroke-linejoin="round"><text class="l" x="0" y="0">AND COMMUNITIES</text></g><g opacity="0.9"><path d="M16.2 75.4L24.3 66L32.4 75.4V90.3H16.2Z" fill="#fff"/><rect x="23" y="84" width="2.8" height="6.3" fill="#F99D26" opacity="0.8"/><rect x="18" y="75" width="12.6" height="0.9" fill="#F99D26" opacity="0.5"/><rect x="34.6" y="39" width="16" height="51.3" fill="#fff"/><rect x="37.4" y="45.0" width="3.6" height="3.6" fill="#F99D26" opacity="0.75"/><rect x="43.8" y="45.0" width="3.6" height="3.6" fill="#F99D26" opacity="0.75"/><rect x="37.4" y="53.7" width="3.6" height="3.6" fill="#F99D26" opacity="0.75"/><rect x="43.8" y="53.7" width="3.6" height="3.6" fill="#F99D26" opacity="0.75"/><rect x="37.4" y="62.4" width="3.6" height="3.6" fill="#F99D26" opacity="0.75"/><rect x="43.8" y="62.4" width="3.6" height="3.6" fill="#F99D26" opacity="0.75"/><rect x="37.4" y="71.1" width="3.6" height="3.6" fill="#F99D26" opacity="0.75"/><rect x="43.8" y="71.1" width="3.6" height="3.6" fill="#F99D26" opacity="0.75"/><rect x="37.4" y="79.8" width="3.6" height="3.6" fill="#F99D26" opacity="0.75"/><rect x="43.8" y="79.8" width="3.6" height="3.6" fill="#F99D26" opacity="0.75"/><path d="M52.2 66.5L67.4 48.4V90.3H52.2Z" fill="#fff"/><rect x="52.2" y="63.0" width="15.2" height="1.2" fill="#F99D26" opacity="0.55"/><rect x="52.2" y="69.2" width="15.2" height="1.2" fill="#F99D26" opacity="0.55"/><rect x="52.2" y="75.4" width="15.2" height="1.2" fill="#F99D26" opacity="0.55"/><rect x="52.2" y="81.6" width="15.2" height="1.2" fill="#F99D26" opacity="0.55"/><rect x="52.2" y="87.8" width="15.2" height="1.2" fill="#F99D26" opacity="0.55"/><rect x="55.4" y="52" width="1.0" height="38.3" fill="#F99D26" opacity="0.45"/><rect x="59.2" y="52" width="1.0" height="38.3" fill="#F99D26" opacity="0.45"/><rect x="63.0" y="52" width="1.0" height="38.3" fill="#F99D26" opacity="0.45"/><rect x="69" y="69.4" width="16" height="20.9" fill="#fff"/><rect x="70.6" y="73.0" width="12.8" height="2.2" fill="#F99D26" opacity="0.6"/><rect x="70.6" y="78.6" width="12.8" height="2.2" fill="#F99D26" opacity="0.6"/><rect x="70.6" y="84.2" width="12.8" height="2.2" fill="#F99D26" opacity="0.6"/></g></g></g>
<g transform="translate(909.2 79.0) scale(0.5200)"><rect width="100" height="100" fill="#C98E2C"/><g opacity="0.93"><g transform="translate(6.6 29.2) scale(0.6703 1)" fill="#fff" fill-opacity="0.93" stroke="#fff" stroke-width="1.65" stroke-opacity="0.85" stroke-linejoin="round"><text class="n2" x="0" y="0">12</text></g><g transform="translate(32.5 16.6) scale(0.5901 1)" fill="#fff" fill-opacity="0.85" stroke="#fff" stroke-width="0.9" stroke-opacity="0.68" stroke-linejoin="round"><text class="l" x="0" y="0">RESPONSIBLE</text></g><g transform="translate(32.5 28.8) scale(0.5901 1)" fill="#fff" fill-opacity="0.85" stroke="#fff" stroke-width="0.9" stroke-opacity="0.68" stroke-linejoin="round"><text class="l" x="0" y="0">CONSUMPTION</text></g><g transform="translate(32.5 41.0) scale(0.5901 1)" fill="#fff" fill-opacity="0.85" stroke="#fff" stroke-width="0.9" stroke-opacity="0.68" stroke-linejoin="round"><text class="l" x="0" y="0">AND PRODUCTION</text></g><path d="M49.3 64.3C44 56 38 50.8 31 50.8C24 50.8 19.9 57 19.9 64.5C19.9 72 24 78.4 31 78.4C38 78.4 44 72.5 49.3 64.3C54.6 56 60.6 50.8 67.6 50.8C74.6 50.8 78.8 57 78.8 64.5C78.8 72 74.6 78.4 67.6 78.4C60.6 78.4 54.6 72.5 49.3 64.3Z" fill="none" stroke="#fff" stroke-width="5.4" stroke-opacity="0.96"/><path d="M36.5 71.5L44 73.5L41 80.5Z" fill="#fff"/></g></g>
<g transform="translate(990.8 78.1) scale(0.5360)"><rect width="100" height="100" fill="#48773E"/><g opacity="0.98"><g transform="translate(6.1 29.2) scale(0.6398 1)" fill="#fff" fill-opacity="0.93" stroke="#fff" stroke-width="1.65" stroke-opacity="0.85" stroke-linejoin="round"><text class="n2" x="0" y="0">13</text></g><g transform="translate(30 16.6) scale(0.5901 1)" fill="#fff" fill-opacity="0.9" stroke="#fff" stroke-width="0.9" stroke-opacity="0.72" stroke-linejoin="round"><text class="l" x="0" y="0">CLIMATE</text></g><g transform="translate(30 28.8) scale(0.5901 1)" fill="#fff" fill-opacity="0.9" stroke="#fff" stroke-width="0.9" stroke-opacity="0.72" stroke-linejoin="round"><text class="l" x="0" y="0">ACTION</text></g><path d="M13.9 63C24 50 36 44.4 50.8 44.4C65.6 44.4 77.6 50 87.6 63C77.6 76 65.6 81.4 50.8 81.4C36 81.4 24 76 13.9 63Z" fill="#fff"/><circle cx="50.8" cy="63" r="15.2" fill="#48773E" opacity="0.93"/><path d="M37.5 60C38 56 40.5 52.5 44 50.5C44.5 53 43 55 41.5 57C40.5 59 40.5 62 39 64C38 63 37.4 61.5 37.5 60Z" fill="#fff" opacity="0.75"/><path d="M47 49.5C50 48.4 54 48.6 57 50C55 51.6 52.5 51 50.5 52.5C49 53.6 47 52.5 47 49.5Z" fill="#fff" opacity="0.55"/><path d="M50.5 62.5C53.5 60.8 57.5 61.5 60 63.5C62.5 65.5 62.5 69 60 71.5C57.5 74 54 75.5 51.5 74.5C52.5 71.5 53 68 51.5 65.5C51 64.5 50.4 63.6 50.5 62.5Z" fill="#fff" opacity="0.8"/><path d="M60.5 53C63 55 65 58 65.8 61.5C63.5 61 61.5 59.5 60.8 57C60.4 55.6 60.2 54.2 60.5 53Z" fill="#fff" opacity="0.6"/><path d="M42 70C44 69 46 70.5 46.5 73C47 75 45.5 76 44 75C42.8 73.8 42 72 42 70Z" fill="#fff" opacity="0.5"/></g></g>
<g transform="translate(1069.6 78.1) scale(0.5400)"><rect width="100" height="100" fill="#0F7FC4"/><g opacity="0.98"><g transform="translate(5.4 29.2) scale(0.6601 1)" fill="#fff" fill-opacity="0.93" stroke="#fff" stroke-width="1.65" stroke-opacity="0.85" stroke-linejoin="round"><text class="n2" x="0" y="0">14</text></g><g transform="translate(31.5 16.6) scale(0.5901 1)" fill="#fff" fill-opacity="0.9" stroke="#fff" stroke-width="0.9" stroke-opacity="0.72" stroke-linejoin="round"><text class="l" x="0" y="0">LIFE</text></g><g transform="translate(31.5 28.8) scale(0.5901 1)" fill="#fff" fill-opacity="0.9" stroke="#fff" stroke-width="0.9" stroke-opacity="0.72" stroke-linejoin="round"><text class="l" x="0" y="0">BELOW WATER</text></g><path d="M22.4 42.6Q26.88 46.800000000000004 31.35 42.6Q35.82 38.4 40.30 42.6Q44.77 46.800000000000004 49.25 42.6Q53.72 38.4 58.20 42.6Q62.67 46.800000000000004 67.15 42.6Q71.62 38.4 76.10 42.6" fill="none" stroke="#fff" stroke-width="3.3" stroke-opacity="0.93"/><path d="M22.4 52Q26.88 56.2 31.35 52Q35.82 47.8 40.30 52Q44.77 56.2 49.25 52Q53.72 47.8 58.20 52Q62.67 56.2 67.15 52Q71.62 47.8 76.10 52" fill="none" stroke="#fff" stroke-width="3.3" stroke-opacity="0.93"/><path d="M34.5 73.2C41 64.5 49 61.3 56.5 61.3C65 61.3 72.5 66 76.8 73.2C72.5 80.5 65 85.2 56.5 85.2C49 85.2 41 82 34.5 73.2Z" fill="#fff"/><path d="M22.4 61.6C28 64 33 68 36.6 73.2C33 78.5 28 82.5 22.4 85C25.4 80.5 27 77 27 73.2C27 69.5 25.4 66 22.4 61.6Z" fill="#fff"/><circle cx="62.2" cy="70.8" r="2.6" fill="#0F7FC4"/></g></g>
<g transform="translate(1150.1 78.1) scale(0.5370)"><rect width="100" height="100" fill="#58B730"/><g opacity="0.95"><g transform="translate(6.3 29.2) scale(0.6500 1)" fill="#fff" fill-opacity="0.93" stroke="#fff" stroke-width="1.65" stroke-opacity="0.85" stroke-linejoin="round"><text class="n2" x="0" y="0">15</text></g><g transform="translate(30.5 16.6) scale(0.5901 1)" fill="#fff" fill-opacity="0.9" stroke="#fff" stroke-width="0.9" stroke-opacity="0.72" stroke-linejoin="round"><text class="l" x="0" y="0">LIFE</text></g><g transform="translate(30.5 28.8) scale(0.5901 1)" fill="#fff" fill-opacity="0.9" stroke="#fff" stroke-width="0.9" stroke-opacity="0.72" stroke-linejoin="round"><text class="l" x="0" y="0">ON LAND</text></g><path d="M39.5 39.4C43.5 39.4 46.2 42 46.6 45C49.6 45.6 51.2 48.4 50.4 51.4C52.2 53.4 52.4 57 50.6 59.2C51.4 62.8 48.6 65.6 45 65.2H34C30.4 65.6 27.4 62.8 28.2 59.2C26.4 57 26.6 53.4 28.6 51.4C27.8 48.4 29.6 45.6 32.4 45C32.8 42 35.5 39.4 39.5 39.4Z" fill="#fff"/><path d="M38.6 64H40.6L41.2 74.2H38Z" fill="#fff"/><rect x="24.8" y="78.8" width="49" height="2.8" fill="#fff" opacity="0.95"/><rect x="24.8" y="84.8" width="49" height="2.8" fill="#fff" opacity="0.95"/><path d="M55 46.4Q59 44 64.4 45.2" stroke="#fff" stroke-width="1.8" fill="none" opacity="0.85"/><path d="M63 41.4Q67 39.6 71.4 40.6" stroke="#fff" stroke-width="1.8" fill="none" opacity="0.85"/><path d="M56.4 58.8Q61 56.6 64 58.6Q67 56.6 71.4 59" stroke="#fff" stroke-width="1.8" fill="none" opacity="0.85"/></g></g>
<g transform="translate(1230.8 78.8) scale(0.5240)"><rect width="100" height="100" fill="#0B67A5"/><g opacity="0.98"><g transform="translate(5.9 29.2) scale(0.6797 1)" fill="#fff" fill-opacity="0.93" stroke="#fff" stroke-width="1.65" stroke-opacity="0.85" stroke-linejoin="round"><text class="n2" x="0" y="0">16</text></g><g transform="translate(30.5 16.6) scale(0.5901 1)" fill="#fff" fill-opacity="0.9" stroke="#fff" stroke-width="0.9" stroke-opacity="0.72" stroke-linejoin="round"><text class="l" x="0" y="0">PEACE, JUSTICE</text></g><g transform="translate(30.5 28.8) scale(0.5901 1)" fill="#fff" fill-opacity="0.9" stroke="#fff" stroke-width="0.9" stroke-opacity="0.72" stroke-linejoin="round"><text class="l" x="0" y="0">AND STRONG</text></g><g transform="translate(30.5 41.0) scale(0.5901 1)" fill="#fff" fill-opacity="0.9" stroke="#fff" stroke-width="0.9" stroke-opacity="0.72" stroke-linejoin="round"><text class="l" x="0" y="0">INSTITUTIONS</text></g><path d="M33.6 53.2C38 54.2 42.4 57 45.8 61.6L48.6 64.2C51.6 60.4 55.6 57.6 60 57C62.4 56.8 63.8 58.4 63.2 60L65.6 60.9L62.8 62.4C62.2 66.4 60 70.2 56 73C53.8 74.8 51.2 76.2 48.8 76.8L49.8 80.4H46.6L46.2 77.3C43 77.5 40 76.7 37.6 75.2L33.8 77L36.6 72C35.8 69 36.2 66 37.4 63.4C36.8 60 35.6 56.4 33.6 53.2Z" fill="#fff"/><path d="M63.6 59.4L70 49.6M65.6 55.8L70.8 54.4M66.8 53.6L66.4 48.8M68.6 51.6L72.4 50.2" stroke="#fff" stroke-width="1.5" fill="none" opacity="0.9" stroke-linecap="round"/><rect x="28.4" y="80.4" width="31" height="3.2" fill="#fff"/><rect x="58.9" y="75.4" width="9.2" height="14.6" fill="#fff"/></g></g>
<g transform="translate(1307.2 78.2) scale(0.5340)"><rect width="100" height="100" fill="#1A3970"/><g opacity="0.98"><g transform="translate(8.0 29.2) scale(0.5999 1)" fill="#fff" fill-opacity="0.93" stroke="#fff" stroke-width="1.65" stroke-opacity="0.85" stroke-linejoin="round"><text class="n2" x="0" y="0">17</text></g><g transform="translate(32.5 16.6) scale(0.5901 1)" fill="#fff" fill-opacity="0.9" stroke="#fff" stroke-width="0.9" stroke-opacity="0.72" stroke-linejoin="round"><text class="l" x="0" y="0">PARTNERSHIPS</text></g><g transform="translate(32.5 28.8) scale(0.5901 1)" fill="#fff" fill-opacity="0.9" stroke="#fff" stroke-width="0.9" stroke-opacity="0.72" stroke-linejoin="round"><text class="l" x="0" y="0">FOR THE GOALS</text></g><circle cx="50.80" cy="51.30" r="12.6" fill="none" stroke="#d4def2" stroke-width="2.3"/><circle cx="62.59" cy="59.87" r="12.6" fill="none" stroke="#d4def2" stroke-width="2.3"/><circle cx="58.09" cy="73.73" r="12.6" fill="none" stroke="#d4def2" stroke-width="2.3"/><circle cx="43.51" cy="73.73" r="12.6" fill="none" stroke="#d4def2" stroke-width="2.3"/><circle cx="39.01" cy="59.87" r="12.6" fill="none" stroke="#d4def2" stroke-width="2.3"/></g></g>
</svg>
<div id="legend">
<div class="li" style="top:0px"><i style="background:#8FAADC"></i><b style="top:-5.8px">Social Collectives</b></div>
<div class="li" style="top:35.3px"><i style="background:#FFD966"></i><b style="top:-5.8px">Organisations and Public Administrations</b></div>
<div class="li" style="top:71.0px"><i style="background:#A9D18E"></i><b style="top:-5.0px">City Council</b></div>
<div class="li" style="top:106.4px"><i style="background:#F4B183"></i><b style="top:-5.6px">Private Organisations</b></div>
</div>
</body></html>
